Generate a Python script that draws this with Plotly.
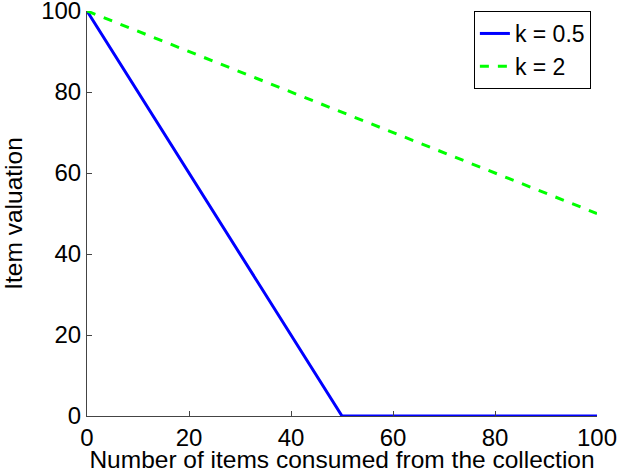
import plotly.graph_objects as go

x_blue = [0, 50, 100]
y_blue = [100, 0, 0]
x_green = [0, 100]
y_green = [100, 50]
ticks = [0, 20, 40, 60, 80, 100]

fig = go.Figure()
fig.add_trace(go.Scatter(x=x_blue, y=y_blue, mode="lines", name="k = 0.5",
                         line=dict(color="#0000ff", width=3)))
fig.add_trace(go.Scatter(x=x_green, y=y_green, mode="lines", name="k = 2",
                         line=dict(color="#00ff00", width=3, dash="dash")))

fam = "Liberation Sans, Arial, sans-serif"
tickfont = dict(family=fam, size=24, color="black")
legfont = dict(family=fam, size=23, color="black")
titlefont = dict(family=fam, size=24.5, color="black")
fig.update_layout(
    width=618, height=473,
    margin=dict(l=87, r=21, t=11, b=57),
    plot_bgcolor="white", paper_bgcolor="white",
    font=tickfont,
    showlegend=True,
    legend=dict(x=0.988, y=1.0, xanchor="right", yanchor="top",
                bordercolor="black", borderwidth=1, bgcolor="white",
                font=legfont, tracegroupgap=0, itemwidth=30),
    xaxis=dict(range=[0, 100], tickvals=ticks, ticks="inside", ticklen=5,
               tickcolor="#444", showline=True, linecolor="#444", linewidth=1,
               showgrid=False, zeroline=False, mirror=False, automargin=False,
               ticklabeloverflow="allow",
               title=dict(text="Number of items consumed from the collection",
                          standoff=0, font=titlefont),
               tickfont=tickfont),
    yaxis=dict(range=[0, 100], tickvals=ticks, ticks="inside", ticklen=5,
               tickcolor="#444", showline=True, linecolor="#444", linewidth=1,
               showgrid=False, zeroline=False, mirror=False, automargin=False,
               ticklabeloverflow="allow",
               title=dict(text="Item valuation", standoff=14, font=titlefont),
               tickfont=tickfont),
)
fig.write_html("out.html", config={"displayModeBar": False},
               post_script="document.body.style.margin='0';document.body.style.overflow='hidden';")
